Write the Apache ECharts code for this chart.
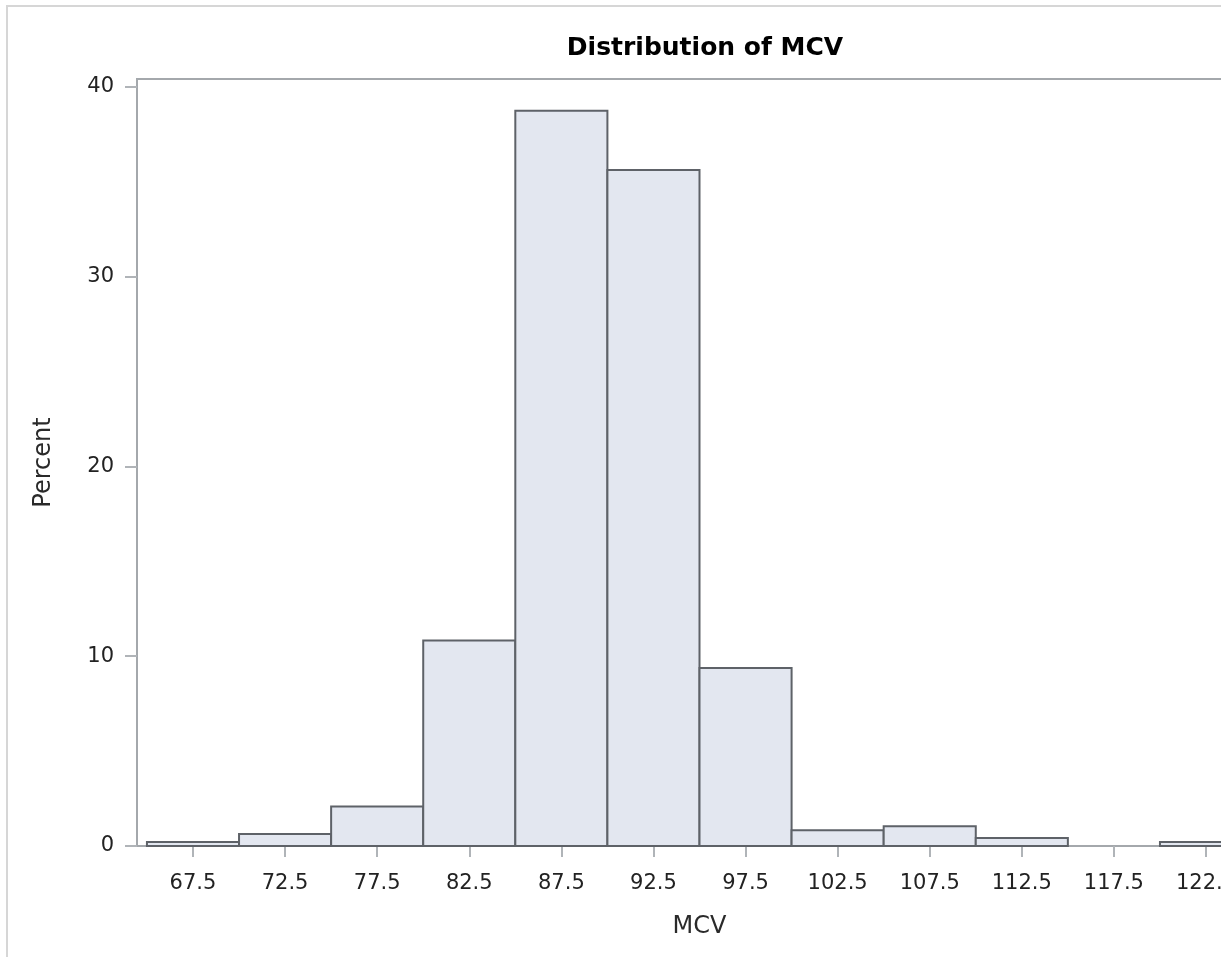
<!DOCTYPE html>
<html>
<head>
<meta charset="utf-8">
<script src="https://cdn.jsdelivr.net/npm/echarts@6/dist/echarts.min.js"></script>
<style>
  html, body { margin: 0; padding: 0; background: #fff; }
  #clip { position: absolute; left: 0; top: 0; width: 1221px; height: 957px; overflow: hidden; background: #fff; }
  #chart { position: absolute; left: 0; top: 0; width: 1330px; height: 957px; }
</style>
</head>
<body>
<div id="clip"><div id="chart"></div></div>
<script>
// Histogram bins (MCV midpoints) and percent per bin
const binMidpoints = [67.5, 72.5, 77.5, 82.5, 87.5, 92.5, 97.5, 102.5, 107.5, 112.5, 117.5, 122.5];
const binWidth = 5;
const percentValues = [0.21, 0.63, 2.08, 10.83, 38.75, 35.63, 9.38, 0.83, 1.04, 0.42, 0, 0.21];
const xTickLabels = ['67.5', '72.5', '77.5', '82.5', '87.5', '92.5', '97.5', '102.5', '107.5', '112.5', '117.5', '122.5'];
const yTickValues = [0, 10, 20, 30, 40];
const xRange = [64.46, 125.54];
const yRange = [0, 40.42];

const FONT = '"DejaVu Sans", "Liberation Sans", Arial, sans-serif';
const chart = echarts.init(document.getElementById('chart'), null, { renderer: 'canvas' });

const seriesData = binMidpoints.map((m, i) => [m - binWidth / 2, m + binWidth / 2, percentValues[i]]);

chart.setOption({
  animation: false,
  backgroundColor: '#ffffff',
  graphic: [{
    type: 'rect',
    shape: { x: 7, y: 6, width: 1400, height: 1100 },
    style: { fill: 'none', stroke: '#d6d6d6', lineWidth: 2 },
    silent: true, z: -10
  }],
  title: {
    text: 'Distribution of MCV',
    left: 700,
    top: 31,
    textAlign: 'center',
    textStyle: { fontFamily: FONT, fontWeight: 'bold', fontSize: 25, color: '#000' }
  },
  grid: {
    left: 137, top: 79, width: 1125, height: 767,
    show: true, borderColor: '#a4a8ac', borderWidth: 2,
    outerBoundsMode: 'none', containLabel: false
  },
  xAxis: {
    type: 'value',
    min: xRange[0], max: xRange[1],
    name: 'MCV',
    nameLocation: 'middle',
    nameGap: 69,
    nameTextStyle: { fontFamily: FONT, fontSize: 24, color: '#2a2a2a' },
    axisLine: { show: true, lineStyle: { color: '#a4a8ac', width: 2 } },
    axisTick: { show: true, length: 11, lineStyle: { color: '#b0b4b8', width: 2 }, customValues: binMidpoints },
    axisLabel: {
      customValues: binMidpoints,
      margin: 27,
      fontFamily: FONT, fontSize: 21, color: '#222'
      , formatter: (v) => xTickLabels[binMidpoints.indexOf(v)] ?? ''
    },
    splitLine: { show: false }
  },
  yAxis: {
    type: 'value',
    min: yRange[0], max: yRange[1],
    name: 'Percent',
    nameLocation: 'middle',
    nameGap: 81,
    nameRotate: 90,
    nameTextStyle: { fontFamily: FONT, fontSize: 24, color: '#2a2a2a' },
    axisLine: { show: true, lineStyle: { color: '#a4a8ac', width: 2 } },
    axisTick: { show: true, length: 12, lineStyle: { color: '#b0b4b8', width: 2 }, customValues: yTickValues },
    axisLabel: {
      customValues: yTickValues,
      margin: 23,
      fontFamily: FONT, fontSize: 21, color: '#222'
    },
    splitLine: { show: false }
  },
  series: [{
    type: 'custom',
    data: seriesData,
    encode: { x: [0, 1], y: 2 },
    renderItem: function (params, api) {
      const x0 = api.value(0), x1 = api.value(1), v = api.value(2);
      if (!(v > 0)) return null;
      const p0 = api.coord([x0, v]);
      const p1 = api.coord([x1, 0]);
      return {
        type: 'rect',
        shape: { x: p0[0], y: p0[1], width: p1[0] - p0[0], height: p1[1] - p0[1] },
        style: { fill: '#e3e7f0', stroke: '#5e6268', lineWidth: 2 }
      };
    }
  }]
});
</script>
</body>
</html>
